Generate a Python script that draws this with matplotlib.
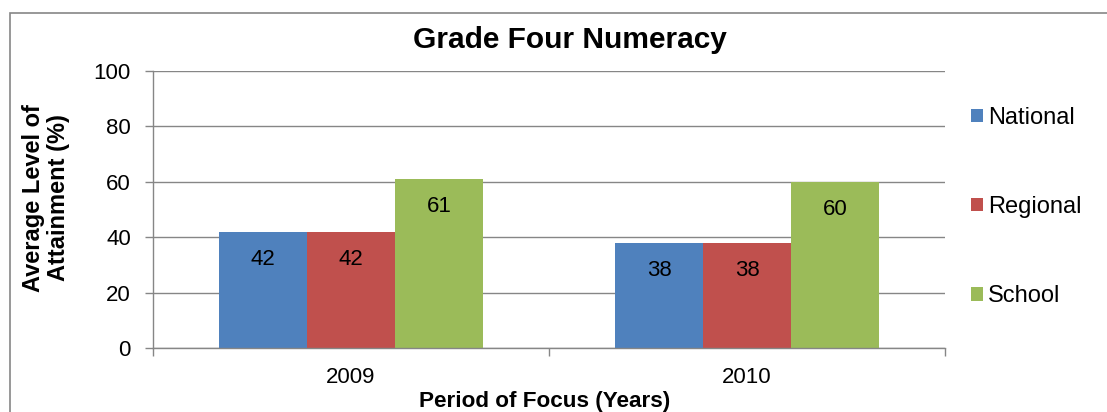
import numpy as np
import matplotlib
matplotlib.use('Agg')
import matplotlib.pyplot as plt
from matplotlib.patches import Rectangle, Patch

plt.rcParams['font.family'] = ['Liberation Sans', 'DejaVu Sans']

years = ['2009', '2010']
series = ['National', 'Regional', 'School']
national = [42, 38]
regional = [42, 38]
school = [61, 60]
colors = ['#4F81BD', '#C0504D', '#9BBB59']
grid_col = '#868686'

W, H = 1107, 412
fig = plt.figure(figsize=(W / 100, H / 100), dpi=100)
ax = fig.add_axes([153 / W, (H - 348) / H, (945 - 153) / W, (348 - 71) / H])

x = np.arange(len(years))
bar_w = 2 / 9  # gap width 50%
values = [national, regional, school]
for i, (name, vals) in enumerate(zip(series, values)):
    pos = x + (i - 1) * bar_w
    ax.bar(pos, vals, width=bar_w, color=colors[i], label=name, zorder=2)
    for px, v in zip(pos, vals):
        ax.annotate(str(v), (px, v), xytext=(0, -20), textcoords='offset points',
                    ha='center', va='center', fontsize=16, color='black', zorder=3)

ax.set_xlim(-0.5, len(years) - 0.5)
ax.set_ylim(0, 100)
ax.set_yticks(np.arange(0, 101, 20))
ax.yaxis.grid(True, color=grid_col, linewidth=1.0, zorder=0)
ax.set_axisbelow(True)

# ticks between categories, labels at centers
ax.set_xticks(np.arange(-0.5, len(years), 1.0))
ax.set_xticklabels([])
ax.set_xticks(x, minor=True)
ax.set_xticklabels(years, minor=True)
ax.tick_params(axis='x', which='major', length=6, width=1.0, color=grid_col, direction='out')
ax.tick_params(axis='x', which='minor', length=0, pad=14, labelsize=16)
ax.tick_params(axis='y', length=6, width=1.0, color=grid_col, direction='out', pad=10, labelsize=16)

for s in ['top', 'right']:
    ax.spines[s].set_visible(False)
for s in ['left', 'bottom']:
    ax.spines[s].set_color(grid_col)
    ax.spines[s].set_linewidth(1.0)

fig.text(570 / W, 1 - 48 / H, 'Grade Four Numeracy', ha='center', va='baseline',
         fontsize=21.5, fontweight='bold')
fig.text(46 / W, 1 - 198 / H, 'Average Level of\nAttainment (%)', ha='center', va='center',
         rotation=90, fontsize=17, fontweight='bold', linespacing=1.1)
fig.text(545 / W, 1 - 407 / H, 'Period of Focus (Years)', ha='center', va='baseline',
         fontsize=16.2, fontweight='bold')

handles = [Patch(facecolor=c, edgecolor='none') for c in colors]
fig.legend(handles, series, loc='upper left', bbox_to_anchor=(971 / W, 1 - 107 / H),
           frameon=False, fontsize=17, handlelength=0.51, handleheight=0.51,
           handletextpad=0.22, labelspacing=2.84, borderaxespad=0, borderpad=0)

fig.add_artist(Rectangle((10 / W, -0.1), 1.2, (H - 13) / H + 0.1, transform=fig.transFigure,
                         fill=False, edgecolor=grid_col, linewidth=1.2))

fig.savefig('out.png', dpi=100)
